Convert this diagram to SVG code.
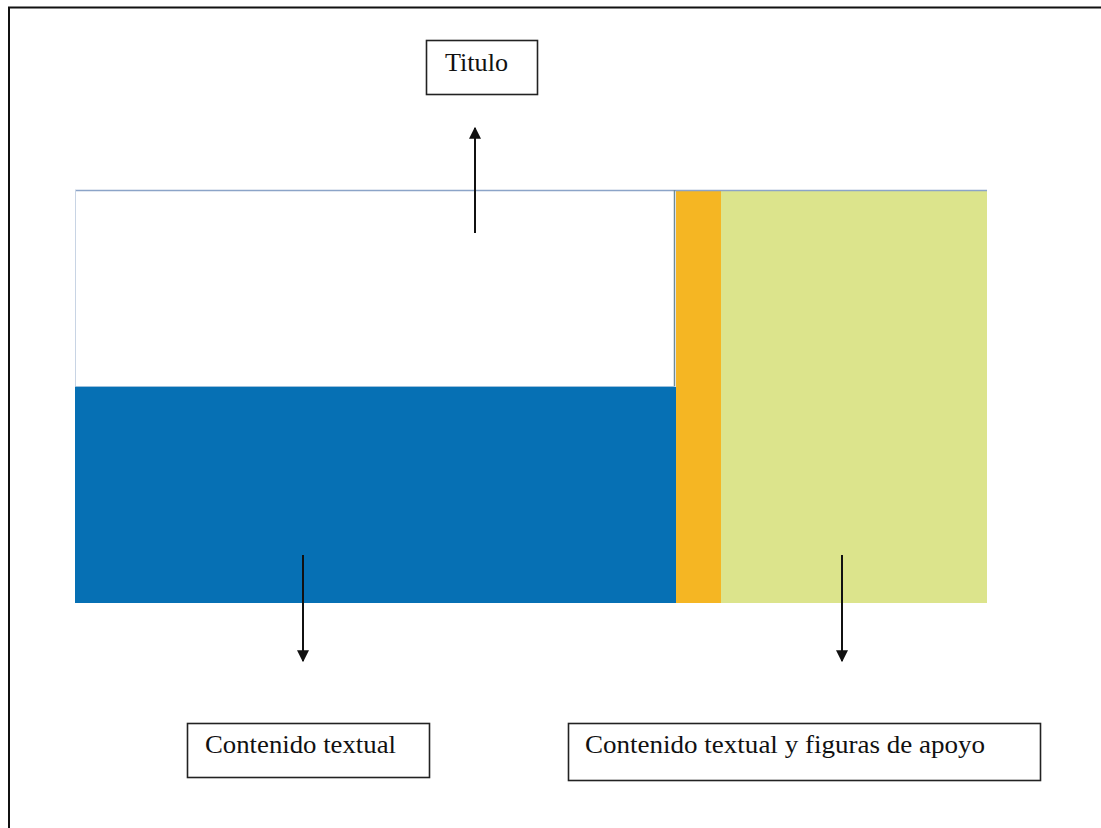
<svg xmlns="http://www.w3.org/2000/svg" width="1101" height="828" viewBox="0 0 1101 828">
<style>
.box{fill:#fff;stroke:#222;stroke-width:1.6}
.lbl{font-family:"Liberation Serif","Times New Roman",serif;font-size:25px;fill:#111}
.con{stroke:#111;stroke-width:2;fill:none}
</style>
<defs>
<marker id="ah" viewBox="0 0 10 10" refX="9" refY="5" markerWidth="12" markerHeight="12" markerUnits="userSpaceOnUse" orient="auto">
<path d="M0,0 L10,5 L0,10 z" fill="#111"/>
</marker>
</defs>
<rect width="1101" height="828" fill="#fff"/>
<g id="frame">
<path d="M9,828 V7.5 H1101" stroke="#111" stroke-width="2" fill="none"/>
</g>
<g id="layout">
<rect x="75" y="190" width="600" height="197" fill="#fff"/>
<rect x="75" y="387" width="601" height="216" fill="#0670B4"/>
<rect x="676" y="190" width="45" height="413" fill="#F5B623"/>
<rect x="721" y="190" width="266" height="413" fill="#DCE48C"/>
<line x1="75" y1="190.5" x2="987" y2="190.5" stroke="#8CA4C8" stroke-width="1.5"/>
<line x1="75.5" y1="190" x2="75.5" y2="387" stroke="#C8D4E4" stroke-width="1"/>
<line x1="674.5" y1="190" x2="674.5" y2="387" stroke="#6E8A96" stroke-width="1.5"/>
<line x1="75" y1="386.5" x2="675" y2="386.5" stroke="#9CC0DC" stroke-width="1"/>
</g>
<g id="titulo">
<rect class="box" x="426.5" y="40.5" width="111" height="54"/>
<text class="lbl" x="445" y="71" textLength="63" lengthAdjust="spacingAndGlyphs">Titulo</text>
</g>
<g id="contenido-textual">
<rect class="box" x="187.5" y="723.5" width="242" height="54"/>
<text class="lbl" x="205" y="753" textLength="191" lengthAdjust="spacingAndGlyphs">Contenido textual</text>
</g>
<g id="contenido-figuras">
<rect class="box" x="568.5" y="723.5" width="472" height="57"/>
<text class="lbl" x="585" y="753" textLength="400" lengthAdjust="spacingAndGlyphs">Contenido textual y figuras de apoyo</text>
</g>
<g id="connectors">
<line class="con" x1="475" y1="233" x2="475" y2="128" marker-end="url(#ah)"/>
<line class="con" x1="303" y1="555" x2="303" y2="661" marker-end="url(#ah)"/>
<line class="con" x1="842" y1="555" x2="842" y2="661" marker-end="url(#ah)"/>
</g>
</svg>
